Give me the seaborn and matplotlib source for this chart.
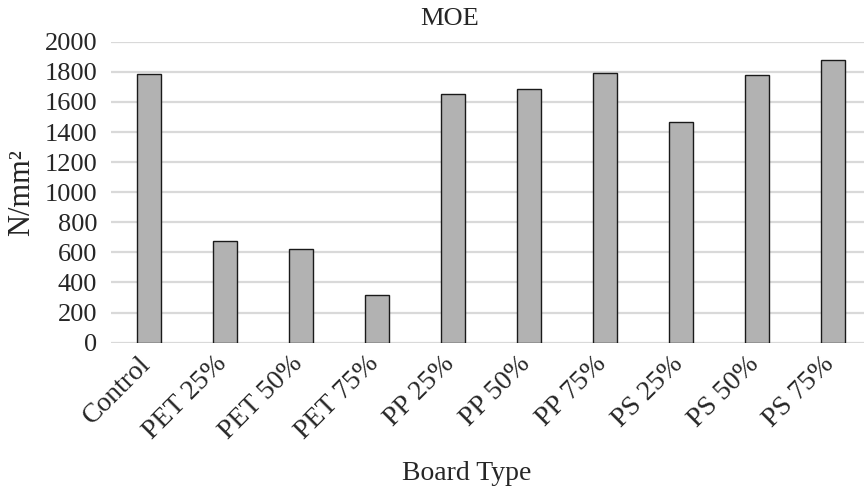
import pandas as pd
import matplotlib.pyplot as plt
import matplotlib.transforms as mtransforms
import seaborn as sns

# MOE values
board_types = ['Control', 'PET 25%', 'PET 50%', 'PET 75%', 'PP 25%',
               'PP 50%', 'PP 75%', 'PS 25%', 'PS 50%', 'PS 75%']
moe_values = [1785, 678, 622, 315, 1654, 1688, 1790, 1464, 1777, 1876]

df = pd.DataFrame({'Board Type': board_types, 'MOE': moe_values})

sns.set_style("white")
plt.rcParams['font.family'] = ['Liberation Serif', 'DejaVu Serif']

fig = plt.figure(figsize=(8.64, 4.93), dpi=100)
ax = fig.add_axes([0.1285, 0.3049, 1 - 0.1285, 0.9154 - 0.3049])

sns.barplot(data=df, x='Board Type', y='MOE', color='#b2b2b2',
            edgecolor='#1a1a1a', linewidth=1.0, width=0.32,
            saturation=1, ax=ax, zorder=3)

ax.set_ylim(0, 2000)
ax.set_xlim(-0.5, 9.408)
ax.set_yticks(range(0, 2001, 200))
ax.yaxis.grid(True, color='#d9d9d9', linewidth=1.6, zorder=0)
ax.xaxis.grid(False)
ax.set_axisbelow(True)
for s in ax.spines.values():
    s.set_visible(False)

ax.tick_params(axis='y', labelsize=19, length=0, pad=10)
ax.tick_params(axis='x', labelsize=20, length=0, pad=2)
shift = mtransforms.ScaledTranslation(-11 / 100, -6 / 100, fig.dpi_scale_trans)
for lbl in ax.get_xticklabels():
    lbl.set_rotation(45)
    lbl.set_ha('right')
    lbl.set_rotation_mode('anchor')
    lbl.set_transform(lbl.get_transform() + shift)

ax.set_title('MOE', fontsize=19, pad=12, x=0.449)
ax.set_xlabel('Board Type', fontsize=20, va='center')
ax.xaxis.set_label_coords(0.472, -0.433)
ax.set_ylabel('N/mm²', fontsize=22, labelpad=6)

fig.savefig('out.png', dpi=100)
